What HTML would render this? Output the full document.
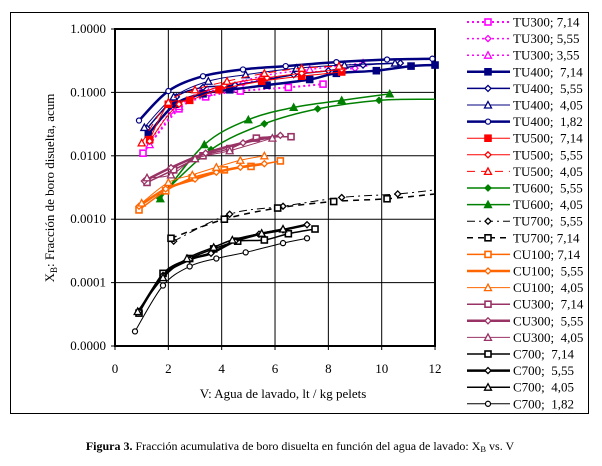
<!DOCTYPE html><html><head><meta charset="utf-8"><style>
body{margin:0;background:#fff;width:602px;height:461px;overflow:hidden;font-family:"Liberation Serif",serif}
</style></head><body>
<svg id="s" width="602" height="461" xmlns="http://www.w3.org/2000/svg" font-family="Liberation Serif, serif"></svg>
<script>
var S=document.getElementById('s'),h='';
function px(x){return 115+x*26.67}
function py(v){return 29-Math.log10(v)*63.4}
h+='<rect x="10.5" y="12.5" width="578" height="401" fill="none" stroke="#000"/>';
for(var i=1;i<6;i++){h+='<line x1="115" x2="435" y1="'+(29+i*63.4)+'" y2="'+(29+i*63.4)+'" stroke="#000"/>';}
for(var i=1;i<6;i++){h+='<line y1="29" y2="346" x1="'+px(i*2)+'" x2="'+px(i*2)+'" stroke="#000"/>';}
h+='<rect x="115" y="29" width="320" height="317" fill="none" stroke="#000" stroke-width="2"/>';
var yl=['1.0000','0.1000','0.0100','0.0010','0.0001','0.0000'];
for(var i=0;i<6;i++)h+='<text x="106" y="'+(33+i*63.4)+'" font-size="13" text-anchor="end">'+yl[i]+'</text><line x1="111" x2="115" y1="'+(29+i*63.4)+'" y2="'+(29+i*63.4)+'" stroke="#000"/>';
for(var i=0;i<7;i++)h+='<text x="'+px(i*2)+'" y="373" font-size="13" text-anchor="middle">'+(i*2)+'</text><line y1="346" y2="350" x1="'+px(i*2)+'" x2="'+px(i*2)+'" stroke="#000"/>';
h+='<text x="283" y="398" font-size="13" text-anchor="middle">V: Agua de lavado, lt / kg pelets</text>';
h+='<text transform="translate(54,188) rotate(-90)" font-size="13" text-anchor="middle">X<tspan font-size="9" dy="3">B</tspan><tspan dy="-3">: Fracción de boro disuelta, acum</tspan></text>';
h+='<text x="300" y="450" font-size="12" text-anchor="middle"><tspan font-weight="bold">Figura 3.</tspan> Fracción acumulativa de boro disuelta en función del agua de lavado: X<tspan font-size="8.5" dy="2">B</tspan><tspan dy="-2"> vs. V</tspan></text>';
function mk(t,x,y,c,f){var s=3;
 if(t=='s')return '<rect x="'+(x-s)+'" y="'+(y-s)+'" width="'+2*s+'" height="'+2*s+'" fill="'+(f?c:'#fff')+'" stroke="'+c+'" stroke-width="1.6"/>';
 if(t=='d')return '<path d="M'+x+' '+(y-s)+'L'+(x+s)+' '+y+'L'+x+' '+(y+s)+'L'+(x-s)+' '+y+'Z" fill="'+(f?c:'#fff')+'" stroke="'+c+'" stroke-width="1.3"/>';
 if(t=='t')return '<path d="M'+x+' '+(y-s-0.5)+'L'+(x+s+0.5)+' '+(y+s)+'L'+(x-s-0.5)+' '+(y+s)+'Z" fill="'+(f?c:'#fff')+'" stroke="'+c+'" stroke-width="1.3"/>';
 return '<circle cx="'+x+'" cy="'+y+'" r="'+s*0.85+'" fill="'+(f?c:'#fff')+'" stroke="'+c+'" stroke-width="1.2"/>';}
var N='#000080',R='#ff0000',M='#ff00ff',G='#008000',P='#993366',O='#ff6600',K='#000';
var ser=[
['TU300; 7,14',M,2,'2,3','s',0,[[1.05,.011],[2.4,.055],[3.4,.085],[4.7,.105],[6.5,.12],[7.8,.135]]],
['TU300; 5,55',M,1.5,'2,3','d',0,[[1.3,.016],[2.1,.05],[3.2,.1],[4.8,.14],[7,.2],[9,.24]]],
['TU300; 3,55',M,1.5,'2,3','t',0,[[1.3,.015],[2.4,.06],[3.5,.1],[5.5,.18],[7.3,.23],[9.3,.29]]],
['TU400;  7,14',N,2.5,'','s',1,[[1.25,.022],[2.25,.065],[3.3,.095],[4.3,.11],[5.7,.13],[7.3,.16],[8.3,.2],[9.8,.22],[11.1,.26],[12,.27]]],
['TU400;  5,55',N,1.5,'','d',0,[[1.2,.027],[2.3,.085],[3.3,.12],[4.5,.13],[6.7,.19],[8,.22],[9.3,.27],[10.7,.29]]],
['TU400;  4,05',N,1,'','t',0,[[1.1,.028],[2.2,.085],[3.5,.15],[4.9,.19],[6.8,.24],[8.6,.27],[10.5,.29]]],
['TU400;  1,82',N,2.5,'','c',0,[[.9,.036],[2,.105],[3.3,.18],[4.8,.23],[6.4,.26],[8.3,.3],[10.2,.33],[11.9,.34]]],
['TU500;  7,14',R,1,'','s',1,[[1.3,.018],[2,.065],[2.8,.075],[3.9,.11],[5.5,.15],[7,.18],[8.5,.21]]],
['TU500;  5,55',R,1,'','d',0,[[1.3,.017],[2.4,.065],[4.1,.13],[5.7,.17],[7,.2],[8.5,.23]]],
['TU500;  4,05',R,1,'8,6','t',0,[[1,.016],[2,.07],[3,.11],[4.2,.15],[5.6,.2],[7,.24],[8.4,.26]]],
['TU600;  5,55',G,1.5,'','d',1,[[1.65,.0022],[3.6,.0125],[5.6,.032],[7.6,.055],[9.9,.075],[12,.078]]],
['TU600;  4,05',G,1.5,'','t',1,[[1.7,.0021],[3.35,.015],[5,.037],[6.7,.058],[8.5,.075],[10.3,.095]]],
['TU700;  5,55',K,1,'8,4,2,4','d',0,[[2.2,.00045],[4.3,.0012],[6.3,.0016],[8.5,.0022],[10.6,.0025],[12,.0029]]],
['TU700; 7,14',K,1.5,'6,5','s',0,[[2.1,.0005],[4.1,.001],[6.1,.0015],[8.2,.0019],[10.2,.0021],[12,.0025]]],
['CU100; 7,14',O,1.5,'','s',0,[[.9,.0014],[1.9,.0028],[2.9,.0045],[4.1,.006],[5.1,.0068],[6.2,.0083]]],
['CU100;  5,55',O,2.5,'','d',0,[[.9,.0016],[1.9,.003],[3,.0043],[3.8,.0055],[4.7,.0066],[5.6,.0075]]],
['CU100;  4,05',O,1,'','t',0,[[1,.0018],[2,.0038],[2.9,.005],[3.8,.0066],[4.7,.0085],[5.6,.01]]],
['CU300;  7,14',P,1.5,'','s',0,[[1.2,.0038],[2.2,.006],[3.3,.01],[4.3,.013],[5.3,.019],[6.6,.02]]],
['CU300;  5,55',P,2.5,'','d',0,[[1.1,.004],[2.1,.0065],[3.4,.011],[4.8,.016],[6.2,.021]]],
['CU300;  4,05',P,1,'','t',0,[[1.2,.0045],[2.1,.005],[3,.009],[4.3,.012],[5.9,.019]]],
['C700;  7,14',K,1.5,'','s',0,[[.9,.000033],[1.8,.00014],[2.8,.00024],[3.7,.00034],[4.6,.00045],[5.6,.00047],[6.5,.00059],[7.5,.0007]]],
['C700;  5,55',K,2.5,'','d',0,[[.9,.000035],[1.8,.00013],[2.8,.00023],[3.6,.00029],[4.5,.00045],[5.4,.00058],[6.3,.00068],[7.2,.00082]]],
['C700;  4,05',K,1.5,'','t',0,[[.85,.000035],[1.8,.00012],[2.7,.00024],[3.7,.00036],[4.4,.00047],[5.5,.0006],[6.3,.0007]]],
['C700;  1,82',K,1,'','c',0,[[.75,.000017],[1.8,.00009],[2.8,.00018],[3.8,.00024],[4.9,.0003],[6.3,.00042],[7.2,.0005]]]];
ser.forEach(function(s,i){
 var p=s[6].map(function(q){return [px(q[0]),py(q[1])]});
 var d='M'+p[0][0]+' '+p[0][1];
 for(var j=1;j<p.length;j++){var a=p[j-1],b=p[j],c0=p[j-2]||a,n=p[j+1]||b;
  d+='C'+(a[0]+(b[0]-c0[0])/6)+' '+(a[1]+(b[1]-c0[1])/6)+' '+(b[0]-(n[0]-a[0])/6)+' '+(b[1]-(n[1]-a[1])/6)+' '+b[0]+' '+b[1];}
 h+='<path d="'+d+'" fill="none" stroke="'+s[1]+'" stroke-width="'+s[2]+'" stroke-dasharray="'+s[3]+'"/>';
 var last=s[6][s[6].length-1][0]==12&&s[0].indexOf('7,14')<0||s[0]=='TU700; 7,14'?p.length-1:p.length;
 for(var j=0;j<last;j++)h+=mk(s[4],p[j][0],p[j][1],s[1],s[5]);
 var y=22+i*16.6;
 h+='<line x1="467" x2="510" y1="'+y+'" y2="'+y+'" stroke="'+s[1]+'" stroke-width="'+s[2]+'" stroke-dasharray="'+s[3]+'"/>'+mk(s[4],488,y,s[1],s[5]);
 h+='<text x="513" y="'+(y+4.5)+'" font-size="13">'+s[0].replace(/ /g,'&#160;')+'</text>';
});
S.innerHTML=h;
</script></body></html>
